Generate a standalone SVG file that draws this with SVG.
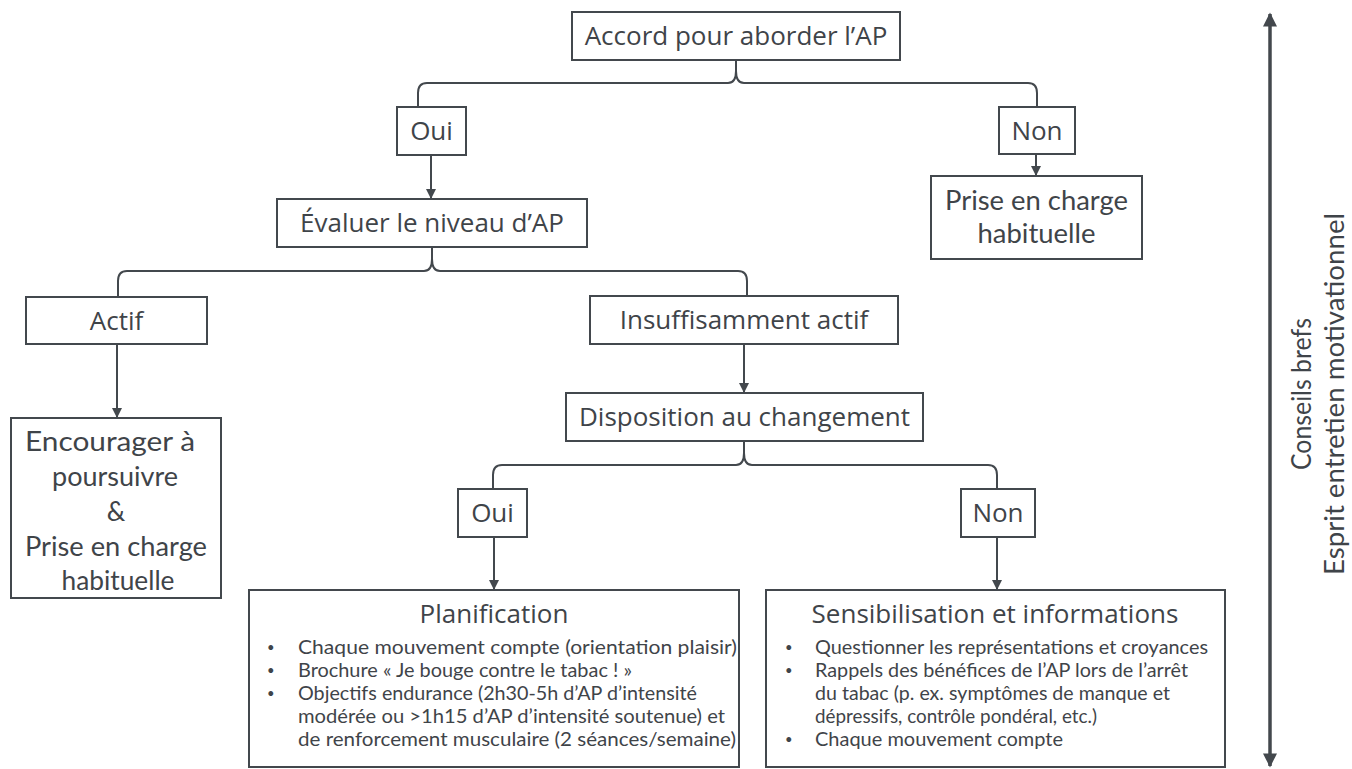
<svg xmlns="http://www.w3.org/2000/svg" width="1352" height="769" viewBox="0 0 1352 769">
<defs>
<style>
.box{fill:#fff;stroke:#43484d;stroke-width:2}
.t{font-family:"Open Sans","Noto Sans",sans-serif;font-size:26px;fill:#3f4449;text-anchor:middle}
.m{font-family:Lato,"Open Sans",sans-serif;font-size:26px;fill:#3f4449;text-anchor:middle}
.b{font-family:Lato,"Open Sans",sans-serif;font-size:19px;fill:#3f4449}
.d{font-family:Lato,"Open Sans",sans-serif;font-size:13px;fill:#3f4449}
.c{fill:none;stroke:#43484d;stroke-width:2}
.s{font-family:Lato,"Open Sans",sans-serif;font-size:26px;fill:#3f4449;text-anchor:middle}
</style>
<marker id="ah" viewBox="0 0 10 10" refX="10" refY="5" markerWidth="5" markerHeight="5" orient="auto" markerUnits="strokeWidth">
<path d="M0,0 L10,5 L0,10 Z" fill="#43484d"/>
</marker>
<marker id="big" viewBox="0 0 10 10" refX="9" refY="5" markerWidth="4.5" markerHeight="4" orient="auto-start-reverse" markerUnits="strokeWidth">
<path d="M0,0 L10,5 L0,10 Z" fill="#43484d"/>
</marker>
</defs>
<rect width="1352" height="769" fill="#fff"/>

<g id="connectors">
<path class="c" d="M736,60 L736,71 Q736,83 728,83 L427,83 Q418,83 418,93 L418,107"/>
<path class="c" d="M736,71 Q736,83 744,83 L1028,83 Q1037,83 1037,93 L1037,107"/>
<path class="c" d="M431,155 L431,199" marker-end="url(#ah)"/>
<path class="c" d="M1036,154 L1036,176" marker-end="url(#ah)"/>
<path class="c" d="M432,247 L432,259 Q432,271 424,271 L127,271 Q118,271 118,281 L118,297"/>
<path class="c" d="M432,259 Q432,271 440,271 L738,271 Q747,271 747,281 L747,296"/>
<path class="c" d="M117,344 L117,418" marker-end="url(#ah)"/>
<path class="c" d="M744,344 L744,393" marker-end="url(#ah)"/>
<path class="c" d="M744,441 L744,453 Q744,465 736,465 L502,465 Q493,465 493,475 L493,489"/>
<path class="c" d="M744,453 Q744,465 752,465 L988,465 Q997,465 997,475 L997,489"/>
<path class="c" d="M494,537 L494,590" marker-end="url(#ah)"/>
<path class="c" d="M997,537 L997,590" marker-end="url(#ah)"/>
<path d="M1270,14 L1270,766" stroke="#43484d" stroke-width="3.5" fill="none" marker-start="url(#big)" marker-end="url(#big)"/>
</g>

<g id="n-accord"><rect class="box" x="572" y="12" width="328" height="48"/><text class="t" x="736" y="45">Accord pour aborder l’AP</text></g>
<g id="n-oui1"><rect class="box" x="397" y="107" width="69" height="48"/><text class="t" x="431.5" y="140">Oui</text></g>
<g id="n-non1"><rect class="box" x="999" y="107" width="76" height="47"/><text class="t" x="1037" y="140">Non</text></g>
<g id="n-prise"><rect class="box" x="931" y="176" width="211" height="83"/>
<text class="m" x="1036.5" y="210" textLength="183" lengthAdjust="spacingAndGlyphs">Prise en charge</text>
<text class="m" x="1036.5" y="243" textLength="118" lengthAdjust="spacingAndGlyphs">habituelle</text></g>
<g id="n-evaluer"><rect class="box" x="277" y="199" width="310" height="48"/><text class="t" x="432" y="232">Évaluer le niveau d’AP</text></g>
<g id="n-actif"><rect class="box" x="26" y="297" width="181" height="47"/><text class="t" x="116.5" y="330">Actif</text></g>
<g id="n-insuff"><rect class="box" x="590" y="296" width="308" height="48"/><text class="t" x="744" y="329">Insuffisamment actif</text></g>
<g id="n-dispo"><rect class="box" x="566" y="393" width="357" height="48"/><text class="t" x="744.5" y="426">Disposition au changement</text></g>
<g id="n-encourager"><rect class="box" x="11" y="418" width="210" height="180"/>
<text class="m" x="110" y="451" textLength="170" lengthAdjust="spacingAndGlyphs">Encourager à</text>
<text class="m" x="115" y="486" textLength="126" lengthAdjust="spacingAndGlyphs">poursuivre</text>
<text class="m" x="116" y="521">&amp;</text>
<text class="m" x="116" y="556" textLength="182" lengthAdjust="spacingAndGlyphs">Prise en charge</text>
<text class="m" x="118" y="590" textLength="113" lengthAdjust="spacingAndGlyphs">habituelle</text></g>
<g id="n-oui2"><rect class="box" x="458" y="489" width="69" height="48"/><text class="t" x="492.5" y="522">Oui</text></g>
<g id="n-non2"><rect class="box" x="961" y="489" width="74" height="48"/><text class="t" x="998" y="522">Non</text></g>
<g id="n-planif"><rect class="box" x="249" y="590" width="490" height="177"/>
<text class="t" x="494" y="623">Planification</text>
<text class="d" x="267" y="652">•</text><text class="b" x="298" y="654" textLength="439" lengthAdjust="spacingAndGlyphs">Chaque mouvement compte (orientation plaisir)</text>
<text class="d" x="267" y="675">•</text><text class="b" x="298" y="677" textLength="334" lengthAdjust="spacingAndGlyphs">Brochure « Je bouge contre le tabac ! »</text>
<text class="d" x="267" y="698">•</text><text class="b" x="298" y="700" textLength="399" lengthAdjust="spacingAndGlyphs">Objectifs endurance (2h30-5h d’AP d’intensité</text>
<text class="b" x="298" y="723" textLength="427" lengthAdjust="spacingAndGlyphs">modérée ou &gt;1h15 d’AP d’intensité soutenue) et</text>
<text class="b" x="298" y="746" textLength="438" lengthAdjust="spacingAndGlyphs">de renforcement musculaire (2 séances/semaine)</text></g>
<g id="n-sensib"><rect class="box" x="766" y="590" width="459" height="177"/>
<text class="t" x="995" y="623">Sensibilisation et informations</text>
<text class="d" x="785" y="652">•</text><text class="b" x="815" y="654" textLength="393" lengthAdjust="spacingAndGlyphs">Questionner les représentations et croyances</text>
<text class="d" x="785" y="675">•</text><text class="b" x="815" y="677" textLength="373" lengthAdjust="spacingAndGlyphs">Rappels des bénéfices de l’AP lors de l’arrêt</text>
<text class="b" x="815" y="700" textLength="355" lengthAdjust="spacingAndGlyphs">du tabac (p. ex. symptômes de manque et</text>
<text class="b" x="815" y="723" textLength="282" lengthAdjust="spacingAndGlyphs">dépressifs, contrôle pondéral, etc.)</text>
<text class="d" x="785" y="744">•</text><text class="b" x="815" y="746" textLength="248" lengthAdjust="spacingAndGlyphs">Chaque mouvement compte</text></g>
<g id="side-labels">
<text class="s" transform="translate(1311,394) rotate(-90)" textLength="152" lengthAdjust="spacingAndGlyphs">Conseils brefs</text>
<text class="s" transform="translate(1344,394) rotate(-90)" textLength="362" lengthAdjust="spacingAndGlyphs">Esprit entretien motivationnel</text>
</g>
</svg>
